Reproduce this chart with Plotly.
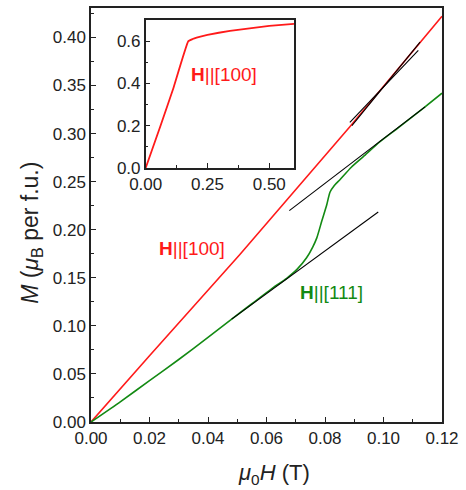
import plotly.graph_objects as go

# Main panel data
red_x = [0.0, 0.02, 0.0509, 0.07, 0.0885, 0.12]
red_y = [0.0, 0.069, 0.1743, 0.2415, 0.307, 0.422]

green_x = [0.0, 0.01, 0.02, 0.03, 0.04, 0.0481, 0.055, 0.0615, 0.0669, 0.0705, 0.0737,
           0.0758, 0.0772, 0.0789, 0.0806, 0.0817, 0.0832, 0.0851, 0.089, 0.0931,
           0.0988, 0.105, 0.1142, 0.12]
green_y = [0.0, 0.021, 0.043, 0.065, 0.088, 0.107, 0.123, 0.138, 0.1495, 0.159, 0.1708,
           0.182, 0.1915, 0.209, 0.226, 0.239, 0.246, 0.252, 0.265, 0.276,
           0.2916, 0.306, 0.3278, 0.342]

# Tangent (guide) lines
tanA_x = [0.0885, 0.1119]
tanA_y = [0.3116, 0.3865]
tanB_x = [0.0892, 0.1125]
tanB_y = [0.3082, 0.3951]
tanC_x = [0.0678, 0.1142]
tanC_y = [0.2199, 0.3278]
tanD_x = [0.0481, 0.0982]
tanD_y = [0.1070, 0.2184]

# Inset data
inset_x = [0.0, 0.06, 0.112, 0.172, 0.19, 0.206, 0.25, 0.341, 0.5, 0.6]
inset_y = [0.0, 0.20, 0.378, 0.600, 0.611, 0.618, 0.631, 0.650, 0.673, 0.683]

main_xticks = [0.0, 0.02, 0.04, 0.06, 0.08, 0.10, 0.12]
main_yticks = [0.0, 0.05, 0.10, 0.15, 0.20, 0.25, 0.30, 0.35, 0.40]
inset_xticks = [0.0, 0.25, 0.5]
inset_yticks = [0.0, 0.2, 0.4, 0.6]

RED = "#ff1a1a"
GREEN = "#138a13"
FONT = "Arial, Liberation Sans, sans-serif"

fig = go.Figure()
fig.add_trace(go.Scatter(x=red_x, y=red_y, mode="lines", line=dict(color=RED, width=1.6),
                         xaxis="x", yaxis="y", showlegend=False))
fig.add_trace(go.Scatter(x=green_x, y=green_y, mode="lines", line=dict(color=GREEN, width=1.6, shape="spline", smoothing=0.6),
                         xaxis="x", yaxis="y", showlegend=False))
for tx, ty in [(tanA_x, tanA_y), (tanB_x, tanB_y), (tanC_x, tanC_y), (tanD_x, tanD_y)]:
    fig.add_trace(go.Scatter(x=tx, y=ty, mode="lines", line=dict(color="black", width=1.1),
                             xaxis="x", yaxis="y", showlegend=False))
fig.add_trace(go.Scatter(x=inset_x, y=inset_y, mode="lines", line=dict(color=RED, width=1.8, shape="spline", smoothing=0.3),
                         xaxis="x2", yaxis="y2", showlegend=False))

axis_common = dict(showgrid=False, zeroline=False, showline=True, linecolor="#222",
                   linewidth=1.5, mirror=True, ticks="inside", ticklen=5, tickwidth=1.2,
                   tickcolor="#222", tickfont=dict(family=FONT, size=17, color="#222"))

fig.update_layout(
    width=466, height=490,
    margin=dict(l=91, r=24, t=6, b=68),
    paper_bgcolor="white", plot_bgcolor="white",
    xaxis=dict(range=[0, 0.12], tickvals=main_xticks, ticktext=[f"{v:.2f}" for v in main_xticks],
               minor=dict(dtick=0.01, ticks="inside", ticklen=3, tickcolor="#222"),
               domain=[0, 1], **axis_common),
    yaxis=dict(range=[0, 0.4306], tickvals=main_yticks, ticktext=[f"{v:.2f}" for v in main_yticks],
               minor=dict(dtick=0.025, ticks="inside", ticklen=3, tickcolor="#222"),
               domain=[0, 1], **axis_common),
    xaxis2=dict(range=[0, 0.6], tickvals=inset_xticks, ticktext=[f"{v:.2f}" for v in inset_xticks],
                minor=dict(dtick=0.125, ticks="inside", ticklen=3, tickcolor="#222"),
                domain=[0.1558, 0.5783], anchor="y2", **axis_common),
    yaxis2=dict(range=[0, 0.7], tickvals=inset_yticks, ticktext=[f"{v:.1f}" for v in inset_yticks],
                minor=dict(dtick=0.1, ticks="inside", ticklen=3, tickcolor="#222"),
                domain=[0.6137, 0.9704], anchor="x2", **axis_common),
)

fig.add_shape(type="rect", xref="x2 domain", yref="y2 domain", x0=0, x1=1, y0=0, y1=1,
              fillcolor="white", line=dict(width=0), layer="below")

annots = [
    dict(x=0.0344, y=0.1803, xref="x", yref="y", text="<b>H</b>||[100]",
         font=dict(family=FONT, size=19, color=RED), showarrow=False),
    dict(x=0.0821, y=0.1352, xref="x", yref="y", text="<b>H</b>||[111]",
         font=dict(family=FONT, size=19, color=GREEN), showarrow=False),
    dict(x=0.3166, y=0.445, xref="x2", yref="y2", text="<b>H</b>||[100]",
         font=dict(family=FONT, size=19, color=RED), showarrow=False),
    dict(x=0.521, y=-0.087, xref="paper", yref="paper", yanchor="top",
         text="<i>μ</i><sub>0</sub><i>H</i> (T)",
         font=dict(family=FONT, size=22, color="#222"), showarrow=False),
    dict(x=-0.215, y=0.457, xref="paper", yref="paper", textangle=-90,
         text="<i>M</i> (<i>μ</i><sub>B</sub> per f.u.)",
         font=dict(family=FONT, size=23, color="#222"), showarrow=False),
]
fig.update_layout(annotations=annots)

fig.write_html("out.html")
